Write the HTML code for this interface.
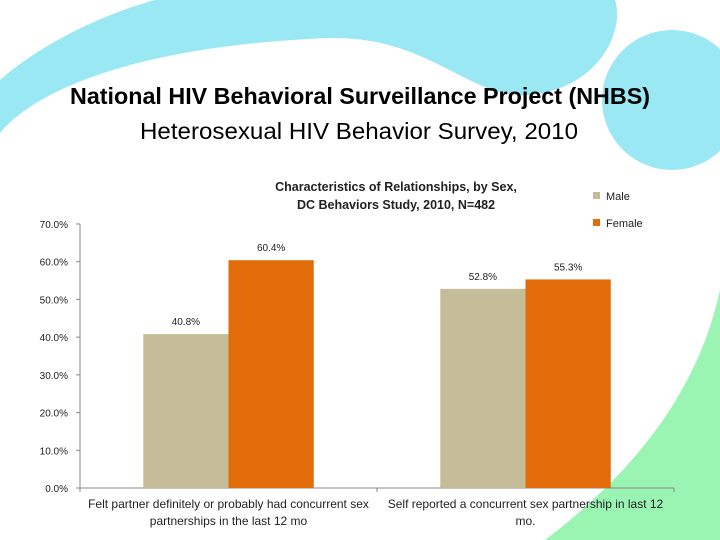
<!DOCTYPE html>
<html><head><meta charset="utf-8"><style>
body{margin:0;width:720px;height:540px;overflow:hidden;background:#fff;font-family:"Liberation Sans",sans-serif}
svg{display:block}
</style></head><body>
<svg width="720" height="540" viewBox="0 0 720 540">
<path d="M0,133 C40,85 150,45 330,38 C430,36 470,100 530,95 C600,88 625,30 615,0 L155,0 C100,15 40,45 0,80 Z" fill="#99e8f3"/>
<circle cx="672" cy="100" r="70" fill="#99e8f3"/>
<path d="M545,540 Q690,430 720,290 L720,540 Z" fill="#9af5b3"/>
<text x="360" y="104" text-anchor="middle" font-size="23.5" font-weight="bold" fill="#000" textLength="580" lengthAdjust="spacingAndGlyphs">National HIV Behavioral Surveillance Project (NHBS)</text>
<text x="359" y="139" text-anchor="middle" font-size="23.5" fill="#000" textLength="438" lengthAdjust="spacingAndGlyphs">Heterosexual HIV Behavior Survey, 2010</text>
<text text-anchor="middle" font-size="12.5" font-weight="bold" fill="#222"><tspan x="396" y="191">Characteristics of Relationships, by Sex,</tspan><tspan x="396" y="209">DC Behaviors Study, 2010, N=482</tspan></text>
<g>
<rect x="593" y="192" width="7" height="7" fill="#c4bd97"/>
<text x="606" y="200" font-size="11" fill="#222">Male</text>
<rect x="593" y="219" width="7" height="7" fill="#e36c0a"/>
<text x="606" y="227" font-size="11" fill="#222">Female</text>
</g>
<g id="chart"></g>
</svg>
<script>
const categories=[["Felt partner definitely or probably had concurrent sex","partnerships in the last 12 mo"],["Self reported a concurrent sex partnership in last 12","mo."]];
const maleValues=[40.8,52.8];
const femaleValues=[60.4,55.3];
const yTicks=[0,10,20,30,40,50,60,70];
const ns="http://www.w3.org/2000/svg";
const g=document.getElementById('chart');
const x0=80,x1=674,yb=488,yt=224,ymax=70;
const Y=v=>yb-(v/ymax)*(yb-yt);
const catW=(x1-x0)/categories.length;
function mk(t,a){const e=document.createElementNS(ns,t);for(const k in a)e.setAttribute(k,a[k]);g.appendChild(e);return e;}
let ax=mk('line',{x1:x0,y1:yt,x2:x0,y2:yb,stroke:'#888'});


let xa=mk('line',{x1:x0,y1:yb,x2:x1,y2:yb,stroke:'#888'});


yTicks.forEach(v=>{
 const tk=mk('line',{x1:x0-4,y1:Y(v),x2:x0,y2:Y(v),stroke:'#888'});
 
 
 const t=mk('text',{x:68,y:Y(v)+4,'text-anchor':'end','font-size':10,fill:'#222'});
 t.textContent=v.toFixed(1)+'%';
 
 
});
for(let i=0;i<=categories.length;i++){
 const tk=mk('line',{x1:x0+i*catW,y1:yb,x2:x0+i*catW,y2:yb+4,stroke:'#888'});
 
 
}
const bw=catW*0.287;
categories.forEach((c,i)=>{
 const cx=x0+catW*(i+0.5);
 [[maleValues[i],'#c4bd97',cx-bw,'bar-male'],[femaleValues[i],'#e36c0a',cx,'bar-female']].forEach(([v,col,bx,nm])=>{
  const r=mk('rect',{x:bx,y:Y(v),width:bw,height:yb-Y(v),fill:col});
  
  
  const t=mk('text',{x:bx+bw/2,y:Y(v)-9,'text-anchor':'middle','font-size':10,fill:'#222'});
  t.textContent=v.toFixed(1)+'%';
  
  
 });
 c.forEach((ln,k)=>{
  const t=mk('text',{x:cx,y:508+k*17,'text-anchor':'middle','font-size':12,fill:'#222'});
  t.textContent=ln;
  
  
 });
});
</script>
</body></html>
